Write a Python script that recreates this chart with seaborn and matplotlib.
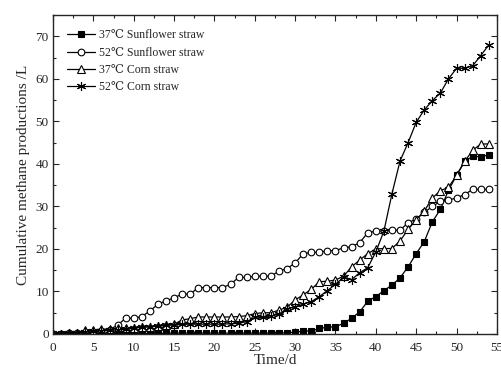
import matplotlib
matplotlib.use("Agg")
import matplotlib.pyplot as plt
import numpy as np
import pandas as pd
import seaborn as sns
from matplotlib.ticker import MultipleLocator

days = list(range(0, 55))

sunflower_37 = [0, 0, 0, 0, 0, 0, 0.1, 0.1, 0.1, 0.1, 0.1, 0.1, 0.1, 0.1, 0.2,
                0.2, 0.2, 0.2, 0.2, 0.2, 0.2, 0.2, 0.2, 0.2, 0.2, 0.2, 0.2, 0.2, 0.2, 0.3,
                0.4, 0.7, 0.7, 1.3, 1.6, 1.7, 2.5, 3.7, 5.2, 7.7, 8.8, 10.2, 11.5, 13.2,
                15.8, 18.9, 21.7, 26.4, 29.3, 33.8, 37.3, 40.6, 41.8, 41.7, 42.1]
sunflower_52 = [0.1, 0.1, 0.2, 0.2, 0.3, 0.5, 0.8, 1.0, 2.1, 3.7, 3.7, 4.1, 5.4, 7.0,
                7.8, 8.5, 9.4, 9.4, 10.9, 10.9, 10.9, 10.9, 11.7, 13.3, 13.3, 13.6, 13.6,
                13.6, 14.8, 15.4, 16.7, 18.9, 19.2, 19.2, 19.6, 19.6, 20.3, 20.5, 21.5,
                23.8, 24.2, 24.2, 24.4, 24.4, 26.2, 27.0, 28.6, 30.0, 31.2, 31.5, 32.0,
                32.8, 34.0, 34.0, 34.0]
corn_37 = [0.1, 0.1, 0.2, 0.3, 1.0, 1.0, 1.1, 1.2, 1.3, 1.4, 1.5, 1.6, 1.7, 1.8, 2.0,
           2.3, 3.3, 3.6, 4.0, 4.0, 4.0, 4.0, 4.0, 4.1, 4.3, 4.8, 5.0, 5.0, 5.6, 6.3,
           8.0, 9.2, 10.5, 12.3, 12.4, 12.7, 13.6, 15.8, 17.4, 18.9, 20.0, 20.1, 20.1,
           21.9, 24.6, 26.9, 28.9, 32.0, 33.7, 34.5, 37.3, 40.6, 43.2, 44.7, 44.7]
corn_52 = [0.1, 0.1, 0.2, 0.3, 0.4, 0.6, 0.8, 0.9, 1.0, 1.1, 1.3, 1.6, 1.7, 1.9, 2.1,
           2.1, 2.3, 2.3, 2.3, 2.3, 2.3, 2.3, 2.4, 2.5, 2.9, 3.9, 4.1, 4.2, 4.7, 5.9,
           6.4, 7.0, 7.6, 8.8, 10.2, 11.7, 13.3, 12.8, 14.4, 15.6, 19.3, 24.2, 33.0,
           40.7, 45.0, 49.8, 52.7, 54.9, 56.7, 60.0, 62.5, 62.5, 63.1, 65.5, 68.0]

series_labels = ["37\u2103 Sunflower straw", "52\u2103 Sunflower straw",
                 "37\u2103 Corn straw", "52\u2103 Corn straw"]

sns.set_style("ticks")
plt.rcParams["font.family"] = ["Liberation Serif", "DejaVu Serif"]
plt.rcParams["xtick.direction"] = "in"
plt.rcParams["ytick.direction"] = "in"

fig = plt.figure(figsize=(5.01, 3.69), dpi=100)
ax = fig.add_axes([0.1058, 0.0949, 0.886, 0.864])

styles = [
    dict(marker="s", markersize=4.3, markerfacecolor="black"),
    dict(marker="o", markersize=4.8, markerfacecolor="white"),
    dict(marker="^", markersize=5.5, markerfacecolor="white"),
    dict(marker=(6, 2, 0), markersize=6.5, markerfacecolor="black"),
]
for values, label, st in zip([sunflower_37, sunflower_52, corn_37, corn_52], series_labels, styles):
    sns.lineplot(x=days, y=values, ax=ax, color="black", linewidth=0.9,
                 markeredgecolor="black", markeredgewidth=0.8, label=label, **st)

ax.set_xlim(0, 55)
ax.set_ylim(0, 75)
ax.xaxis.set_major_locator(MultipleLocator(5))
ax.xaxis.set_minor_locator(MultipleLocator(2.5))
ax.yaxis.set_major_locator(MultipleLocator(10))
ax.yaxis.set_minor_locator(MultipleLocator(5))
ax.tick_params(which="both", top=True, right=True, labelsize=9.5, width=0.8)
ax.tick_params(axis="x", which="major", pad=6)
ax.tick_params(axis="y", which="major", pad=3)
ax.tick_params(which="major", length=4)
ax.tick_params(which="minor", length=2.5)
for sp in ax.spines.values():
    sp.set_linewidth(1.0)

ax.set_xlabel("Time/d", fontsize=11, labelpad=0)
ax.set_ylabel("Cumulative methane productions /L", fontsize=11, labelpad=4)

ax.legend(loc="upper left", bbox_to_anchor=(0.022, 0.97), frameon=False, fontsize=8.5,
          borderaxespad=0, borderpad=0.4, handlelength=2.3, handletextpad=0.4,
          labelspacing=0.45)

fig.savefig("out.png", dpi=100)
